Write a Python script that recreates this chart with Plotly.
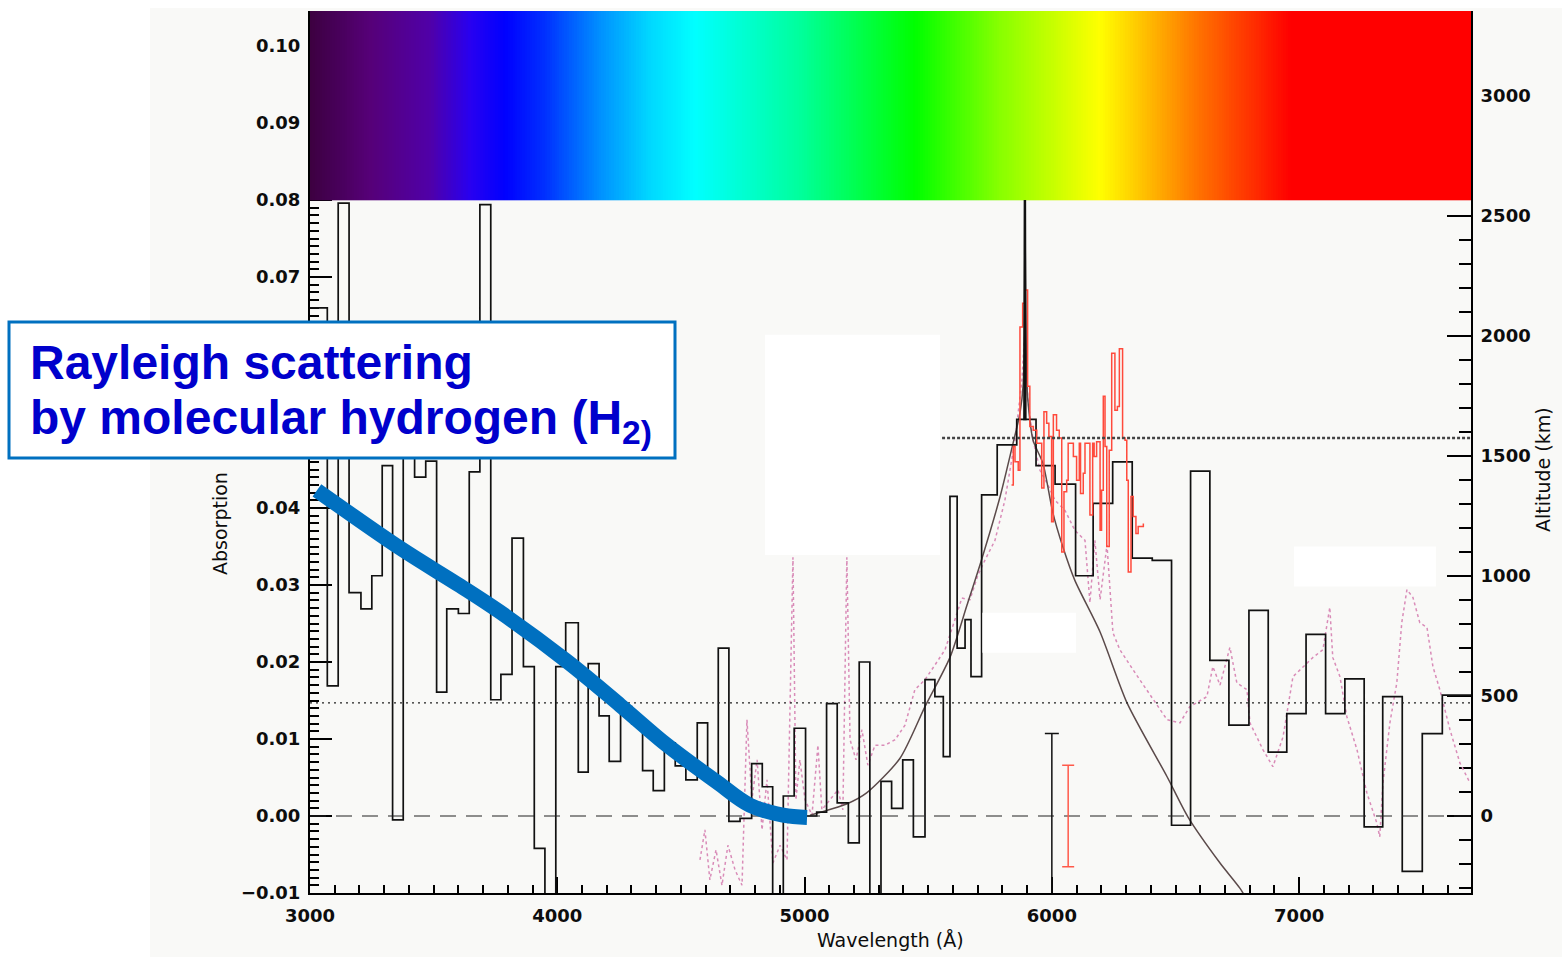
import numpy as np
import plotly.graph_objects as go

# ---------------- data ----------------
# binned absorption spectrum (black histogram): bin edges [Å] and depth per bin
BIN_EDGES = [3000, 3070, 3114, 3158, 3206, 3250, 3292, 3334, 3377, 3423, 3468, 3512,
             3553, 3600, 3644, 3687, 3731, 3772, 3817, 3863, 3907, 3950, 3994, 4034,
             4085, 4125, 4169, 4210, 4256, 4301, 4345, 4388, 4433, 4477, 4520, 4566,
             4608, 4651, 4694, 4739, 4786, 4829, 4871, 4914, 4958, 5004, 5049, 5089,
             5132, 5177, 5221, 5264, 5309, 5352, 5397, 5440, 5487, 5527, 5561, 5588,
             5617, 5649, 5673, 5716, 5779, 5858, 5936, 6013, 6096, 6167, 6246, 6325,
             6406, 6484, 6561, 6639, 6716, 6797, 6875, 6950, 7028, 7107, 7185, 7263,
             7338, 7417, 7498, 7579, 7695]
BIN_DEPTH = [0.066, 0.0169, 0.0796, 0.029, 0.0269, 0.0312, 0.0455, -0.0005, 0.052, 0.044,
             0.0461, 0.0161, 0.0269, 0.0263, 0.0447, 0.0794, 0.0151, 0.0184, 0.0361, 0.0194,
             -0.0042, -0.015, 0.0194, 0.0251, 0.0057, 0.0198, 0.013, 0.0071, 0.0142, 0.012,
             0.0059, 0.0033, 0.0095, 0.0065, 0.0047, 0.0121, 0.0045, 0.0218, -0.0007, -0.0003,
             0.0068, 0.0038, -0.015, 0.0026, 0.0114, 0.0, 0.0005, 0.0146, 0.0017, -0.0035,
             0.020, -0.015, 0.0045, 0.001, 0.0073, -0.0027, 0.0177, 0.0155, 0.0077, 0.0415,
             0.0218, 0.0255, 0.0181, 0.0417, 0.0482, 0.0515, 0.0455, 0.0431, 0.0312, 0.0406,
             0.046, 0.0335, 0.0332, -0.0012, 0.0448, 0.0202, 0.0118, 0.0267, 0.0083, 0.0133,
             0.0236, 0.0133, 0.0178, -0.0014, 0.0155, -0.0072, 0.0107, 0.0157]

# high-resolution spectrum (pink dotted)
HIRES_WL = [4577, 4597, 4617, 4642, 4666, 4690, 4719, 4747, 4767, 4787, 4808, 4828, 4848,
            4872, 4901, 4929, 4953, 4965, 4981, 5002, 5030, 5054, 5070, 5103, 5135, 5155,
            5171, 5184, 5208, 5232, 5256, 5285, 5325, 5366, 5406, 5446, 5487, 5527, 5568,
            5608, 5636, 5669, 5701, 5729, 5770, 5810, 5851, 5879, 5891, 5903, 5924, 5952,
            5984, 6013, 6053, 6093, 6134, 6154, 6174, 6195, 6223, 6247, 6275, 6328, 6397,
            6466, 6518, 6558, 6627, 6651, 6680, 6720, 6748, 6789, 6801, 6854, 6894, 6935,
            6975, 7015, 7056, 7096, 7124, 7136, 7165, 7193, 7234, 7274, 7314, 7326, 7339,
            7367, 7395, 7415, 7436, 7460, 7488, 7517, 7541, 7569, 7610, 7650, 7691]
HIRES_DEPTH = [-0.0057, -0.0018, -0.0083, -0.0044, -0.0090, -0.0038, -0.0070, -0.0090,
               0.0125, 0.0021, 0.0073, -0.0018, 0.0047, -0.0061, -0.0038, -0.0057, 0.0336,
               0.0021, 0.0073, 0.0021, 0.0001, 0.0092, 0.0008, 0.0021, 0.0034, 0.0008,
               0.0336, 0.0099, 0.0073, 0.0112, 0.0066, 0.0092, 0.0092, 0.0099, 0.0118,
               0.0164, 0.0177, 0.0196, 0.0216, 0.0255, 0.0283, 0.0281, 0.0313, 0.0332,
               0.0358, 0.0410, 0.0488, 0.0566, 0.0631, 0.0540, 0.0488, 0.0449, 0.0430,
               0.0410, 0.0397, 0.0371, 0.0358, 0.0277, 0.0358, 0.0281, 0.0352, 0.0238,
               0.0216, 0.0190, 0.0157, 0.0125, 0.0121, 0.0142, 0.0155, 0.0194, 0.0170,
               0.0219, 0.0173, 0.0164, 0.0121, 0.0086, 0.0064, 0.0103, 0.0181, 0.0194,
               0.0206, 0.0216, 0.0271, 0.0206, 0.0181, 0.0129, 0.0086, 0.0030, -0.0009,
               -0.0027, 0.0043, 0.0121, 0.0173, 0.0251, 0.0294, 0.0284, 0.0251, 0.0245,
               0.0194, 0.0164, 0.0112, 0.0069, 0.0043]

# sodium region at finer binning (red)
NA_WL = [5837, 5844, 5851, 5864, 5871, 5882, 5891, 5902, 5911, 5925, 5939, 5959, 5968,
         5979, 5988, 5999, 6006, 6019, 6030, 6040, 6049, 6060, 6066, 6080, 6087, 6100,
         6111, 6116, 6127, 6134, 6147, 6154, 6165, 6171, 6181, 6195, 6201, 6208, 6215,
         6222, 6232, 6242, 6255, 6265, 6273, 6282, 6286, 6296, 6303, 6309, 6320, 6329,
         6340, 6349, 6370]
NA_DEPTH = [0.0430, 0.0480, 0.0460, 0.0449, 0.0635, 0.0666, 0.0683, 0.0558, 0.0506, 0.0501,
            0.0484, 0.0426, 0.0525, 0.0510, 0.0493, 0.0382, 0.0521, 0.0501, 0.0491, 0.0343,
            0.0421, 0.0436, 0.0484, 0.0484, 0.0467, 0.0436, 0.0484, 0.0419, 0.0445, 0.0484,
            0.0484, 0.0391, 0.0484, 0.0467, 0.0486, 0.0371, 0.0423, 0.0545, 0.0480, 0.0350,
            0.0475, 0.0601, 0.0527, 0.0532, 0.0607, 0.0607, 0.0491, 0.0488, 0.0436, 0.0317,
            0.0415, 0.0389, 0.0367, 0.0376, 0.0380]

# Na D model profile (gray), peak runs off scale
MODEL_WL = [5022, 5170, 5251, 5386, 5487, 5588, 5657, 5713, 5790, 5843, 5871, 5884,
            5891, 5898, 5903, 5924, 5964, 6004, 6045, 6093, 6195, 6304, 6466, 6550,
            6680, 6761, 6800]
MODEL_DEPTH = [0.0001, 0.00156, 0.0030, 0.0075, 0.0142, 0.0206, 0.0274, 0.0330, 0.0414,
               0.0484, 0.0523, 0.0560, 0.16, 0.0572, 0.0540, 0.0488, 0.0458, 0.0394, 0.0349,
               0.0306, 0.0239, 0.0147, 0.0051, -0.0001, -0.0061, -0.0094, -0.0115]
# unresolved line core
CORE_WL = [5889, 5891, 5893]
CORE_DEPTH = [0.0514, 0.16, 0.0514]

# Rayleigh scattering trend (blue)
RAYLEIGH_WL = [3028, 3364, 3607, 3768, 4039, 4254, 4444, 4646, 4779, 4913, 5010]
RAYLEIGH_DEPTH = [0.0423, 0.0348, 0.0299, 0.0265, 0.0201, 0.0144, 0.0092, 0.0044,
                  0.0014, 0.0001, -0.0002]

# typical uncertainties
ERR_WL = [6000, 6066]
ERR_HALF = [0.0107, 0.0066]

# reference levels
LEVEL_LOW = 0.01468
LEVEL_HIGH = 0.0491
LEVEL_HIGH_START = 5556

# visible-spectrum colour band
SPECTRUM_WL = [3000, 3243, 3485, 3647, 3789, 3950, 4173, 4375, 4557, 4981, 5446, 5790,
               6194, 6599, 6963, 7695]
SPECTRUM_RGB = ["#3c0040", "#560078", "#5000a8", "#2800f0", "#0000ff", "#0030ff",
                "#0090ff", "#00d8ff", "#00ffff", "#00ff9c", "#00ff00", "#88ff00",
                "#ffff00", "#ff7000", "#ff0000", "#ff0000"]

# labelled depth ticks (0.05 and 0.06 sit behind the caption box)
Y_TICKS = [-0.01, 0.00, 0.01, 0.02, 0.03, 0.04, 0.07, 0.08, 0.09, 0.10]

X_RANGE = [3000, 7695]
Y_RANGE = [-0.01, 0.10455]
KM_PER_DEPTH = 32083.0
BAND_BOTTOM = 0.08

BLUE = "#0070c0"
BG = "#f9f9f7"
INK = "#111111"
TICK_FONT = dict(family="DejaVu Sans", size=18, color="#0d0d0d", weight="bold")
TITLE_FONT = dict(family="DejaVu Sans", size=19, color="#0d0d0d")

fig = go.Figure()

# high-resolution spectrum
fig.add_trace(go.Scatter(x=HIRES_WL, y=HIRES_DEPTH, mode="lines",
                         line=dict(color="#d98cb8", width=1.5, dash="dot"),
                         hoverinfo="skip", showlegend=False))

# model profile, drawn as two smooth branches meeting at the core (clipped under the band)
model_wl = np.array(MODEL_WL)
model_d = np.minimum(np.array(MODEL_DEPTH), BAND_BOTTOM)
ipk = int(np.argmax(MODEL_DEPTH))
for sl in (slice(0, ipk + 1), slice(ipk, None)):
    fig.add_trace(go.Scatter(x=model_wl[sl], y=model_d[sl], mode="lines",
                             line=dict(color="#5b4a4a", width=1.5, shape="spline",
                                       smoothing=0.7),
                             hoverinfo="skip", showlegend=False))

# binned spectrum as a step histogram
fig.add_trace(go.Scatter(x=BIN_EDGES, y=BIN_DEPTH + [BIN_DEPTH[-1]], mode="lines",
                         line=dict(color=INK, width=1.7, shape="hv"),
                         hoverinfo="skip", showlegend=False))

# sodium region
fig.add_trace(go.Scatter(x=NA_WL, y=NA_DEPTH, mode="lines",
                         line=dict(color="#ff4a3c", width=1.5, shape="hv"),
                         hoverinfo="skip", showlegend=False))

# line core
fig.add_trace(go.Scatter(x=CORE_WL, y=np.minimum(CORE_DEPTH, BAND_BOTTOM), mode="lines",
                         line=dict(color=INK, width=2.5),
                         hoverinfo="skip", showlegend=False))

# reference levels
fig.add_trace(go.Scatter(x=X_RANGE, y=[0, 0], mode="lines",
                         line=dict(color="#222222", width=1.2, dash="16px,10px"),
                         hoverinfo="skip", showlegend=False))
fig.add_trace(go.Scatter(x=X_RANGE, y=[LEVEL_LOW, LEVEL_LOW], mode="lines",
                         line=dict(color="#222222", width=1.2, dash="2px,4px"),
                         hoverinfo="skip", showlegend=False))
fig.add_trace(go.Scatter(x=[LEVEL_HIGH_START, X_RANGE[1]], y=[LEVEL_HIGH, LEVEL_HIGH],
                         mode="lines",
                         line=dict(color="#444444", width=2.5, dash="3px,2px"),
                         hoverinfo="skip", showlegend=False))

# error bars
fig.add_trace(go.Scatter(x=[ERR_WL[0]], y=[0], mode="markers",
                         marker=dict(size=1, color="rgba(0,0,0,0)"),
                         error_y=dict(type="data", array=[ERR_HALF[0]], color=INK,
                                      thickness=1.5, width=7),
                         hoverinfo="skip", showlegend=False))
fig.add_trace(go.Scatter(x=[ERR_WL[1]], y=[0], mode="markers",
                         marker=dict(size=1, color="rgba(0,0,0,0)"),
                         error_y=dict(type="data", array=[ERR_HALF[1]], color="#ff5a4a",
                                      thickness=1.5, width=6),
                         hoverinfo="skip", showlegend=False))

# Rayleigh trend
fig.add_trace(go.Scatter(x=RAYLEIGH_WL, y=RAYLEIGH_DEPTH, mode="lines",
                         line=dict(color=BLUE, width=15, shape="spline", smoothing=1.0),
                         hoverinfo="skip", showlegend=False))

# colour band along the top
band_edges = np.linspace(X_RANGE[0], X_RANGE[1], 471)
band_mid = 0.5 * (band_edges[:-1] + band_edges[1:])
span = SPECTRUM_WL[-1] - SPECTRUM_WL[0]
colorscale = [[(w - SPECTRUM_WL[0]) / span, c] for w, c in zip(SPECTRUM_WL, SPECTRUM_RGB)]
fig.add_trace(go.Heatmap(x=band_edges, y=[BAND_BOTTOM, Y_RANGE[1] + 0.001], z=[band_mid],
                         colorscale=colorscale, zmin=SPECTRUM_WL[0], zmax=SPECTRUM_WL[-1],
                         showscale=False, hoverinfo="skip"))

# altitude axis carrier
fig.add_trace(go.Scatter(x=[None], y=[None], yaxis="y2", showlegend=False,
                         hoverinfo="skip"))

# plot area in pixels: x 310..1471, y 11..893
L, R, T, B = 310, 1471, 11, 893
W, H = 1562, 957


def px(xp):
    return (xp - L) / (R - L)


def py(yp):
    return (B - yp) / (B - T)


shapes = [
    # white page margin on the left and top
    dict(type="rect", xref="paper", yref="paper", x0=px(-20), x1=px(150), y0=py(980), y1=py(-20),
         fillcolor="white", line=dict(width=0), layer="below"),
    dict(type="rect", xref="paper", yref="paper", x0=px(-20), x1=px(1600), y0=py(8), y1=py(-20),
         fillcolor="white", line=dict(width=0), layer="below"),
    # blank patches inside the frame
    dict(type="rect", xref="x", yref="y", x0=4840, x1=5548, y0=0.0339, y1=0.0625,
         fillcolor="white", line=dict(width=0), layer="above"),
    dict(type="rect", xref="x", yref="y", x0=5719, x1=6098, y0=0.0212, y1=0.0264,
         fillcolor="white", line=dict(width=0), layer="above"),
    dict(type="rect", xref="x", yref="y", x0=6979, x1=7553, y0=0.0298, y1=0.0350,
         fillcolor="white", line=dict(width=0), layer="above"),
    # caption box
    dict(type="rect", xref="paper", yref="paper", x0=px(9), x1=px(675), y0=py(458), y1=py(322),
         fillcolor="white", line=dict(color=BLUE, width=3), layer="above"),
]

cap_font = dict(family="Liberation Sans", size=48, color="#0000cc")
annotations = [
    dict(text="<b>Rayleigh scattering</b>", xref="paper", yref="paper", x=px(28), y=py(362),
         xanchor="left", yanchor="middle", showarrow=False, font=cap_font),
    dict(text="<b>by molecular hydrogen (H<sub>2)</sub></b>", xref="paper", yref="paper",
         x=px(28), y=py(421), xanchor="left", yanchor="middle", showarrow=False, font=cap_font),
    dict(text="Absorption", xref="paper", yref="paper", x=px(220), y=py(524), textangle=-90,
         xanchor="center", yanchor="middle", showarrow=False, font=TITLE_FONT),
    dict(text="Altitude (km)", xref="paper", yref="paper", x=px(1543), y=py(470), textangle=-90,
         xanchor="center", yanchor="middle", showarrow=False, font=TITLE_FONT),
    dict(text="Wavelength (Å)", xref="paper", yref="paper", x=px(890), y=py(940),
         xanchor="center", yanchor="middle", showarrow=False, font=TITLE_FONT),
]

y_ticktext = [f"{v:.2f}".replace("-", "\u2212") for v in Y_TICKS]

fig.update_layout(
    width=W, height=H, autosize=False,
    margin=dict(l=L, r=W - R, t=T, b=H - B, pad=0),
    paper_bgcolor=BG, plot_bgcolor=BG,
    showlegend=False,
    shapes=shapes, annotations=annotations,
    xaxis=dict(range=X_RANGE, showgrid=False, zeroline=False, showline=True,
               linecolor="black", linewidth=2, ticks="inside", ticklen=16, tickwidth=2,
               tickcolor="black", tick0=3000, dtick=1000, tickfont=TICK_FONT,
               ticklabelstandoff=5, layer="below traces",
               minor=dict(ticks="inside", tick0=3000, dtick=100, ticklen=8,
                          tickwidth=2, tickcolor="black", showgrid=False)),
    yaxis=dict(range=Y_RANGE, showgrid=False, zeroline=False, showline=True,
               linecolor="black", linewidth=2, ticks="inside", ticklen=22, tickwidth=2,
               tickcolor="black", tickmode="array", tickvals=Y_TICKS, ticktext=y_ticktext,
               tickfont=TICK_FONT, ticklabelstandoff=4, layer="below traces",
               minor=dict(ticks="inside", tick0=0, dtick=0.001, ticklen=9,
                          tickwidth=1.5, tickcolor="black", showgrid=False)),
    yaxis2=dict(range=[Y_RANGE[0] * KM_PER_DEPTH, Y_RANGE[1] * KM_PER_DEPTH],
                overlaying="y", side="right", showgrid=False, zeroline=False,
                showline=True, linecolor="black", linewidth=2, ticks="inside",
                ticklen=24, tickwidth=2, tickcolor="black", tick0=0, dtick=500,
                tickfont=TICK_FONT, ticklabelstandoff=4, layer="below traces",
                minor=dict(ticks="inside", tick0=0, dtick=100, ticklen=12,
                           tickwidth=2, tickcolor="black", showgrid=False)),
)

fig.write_html("out.html")
